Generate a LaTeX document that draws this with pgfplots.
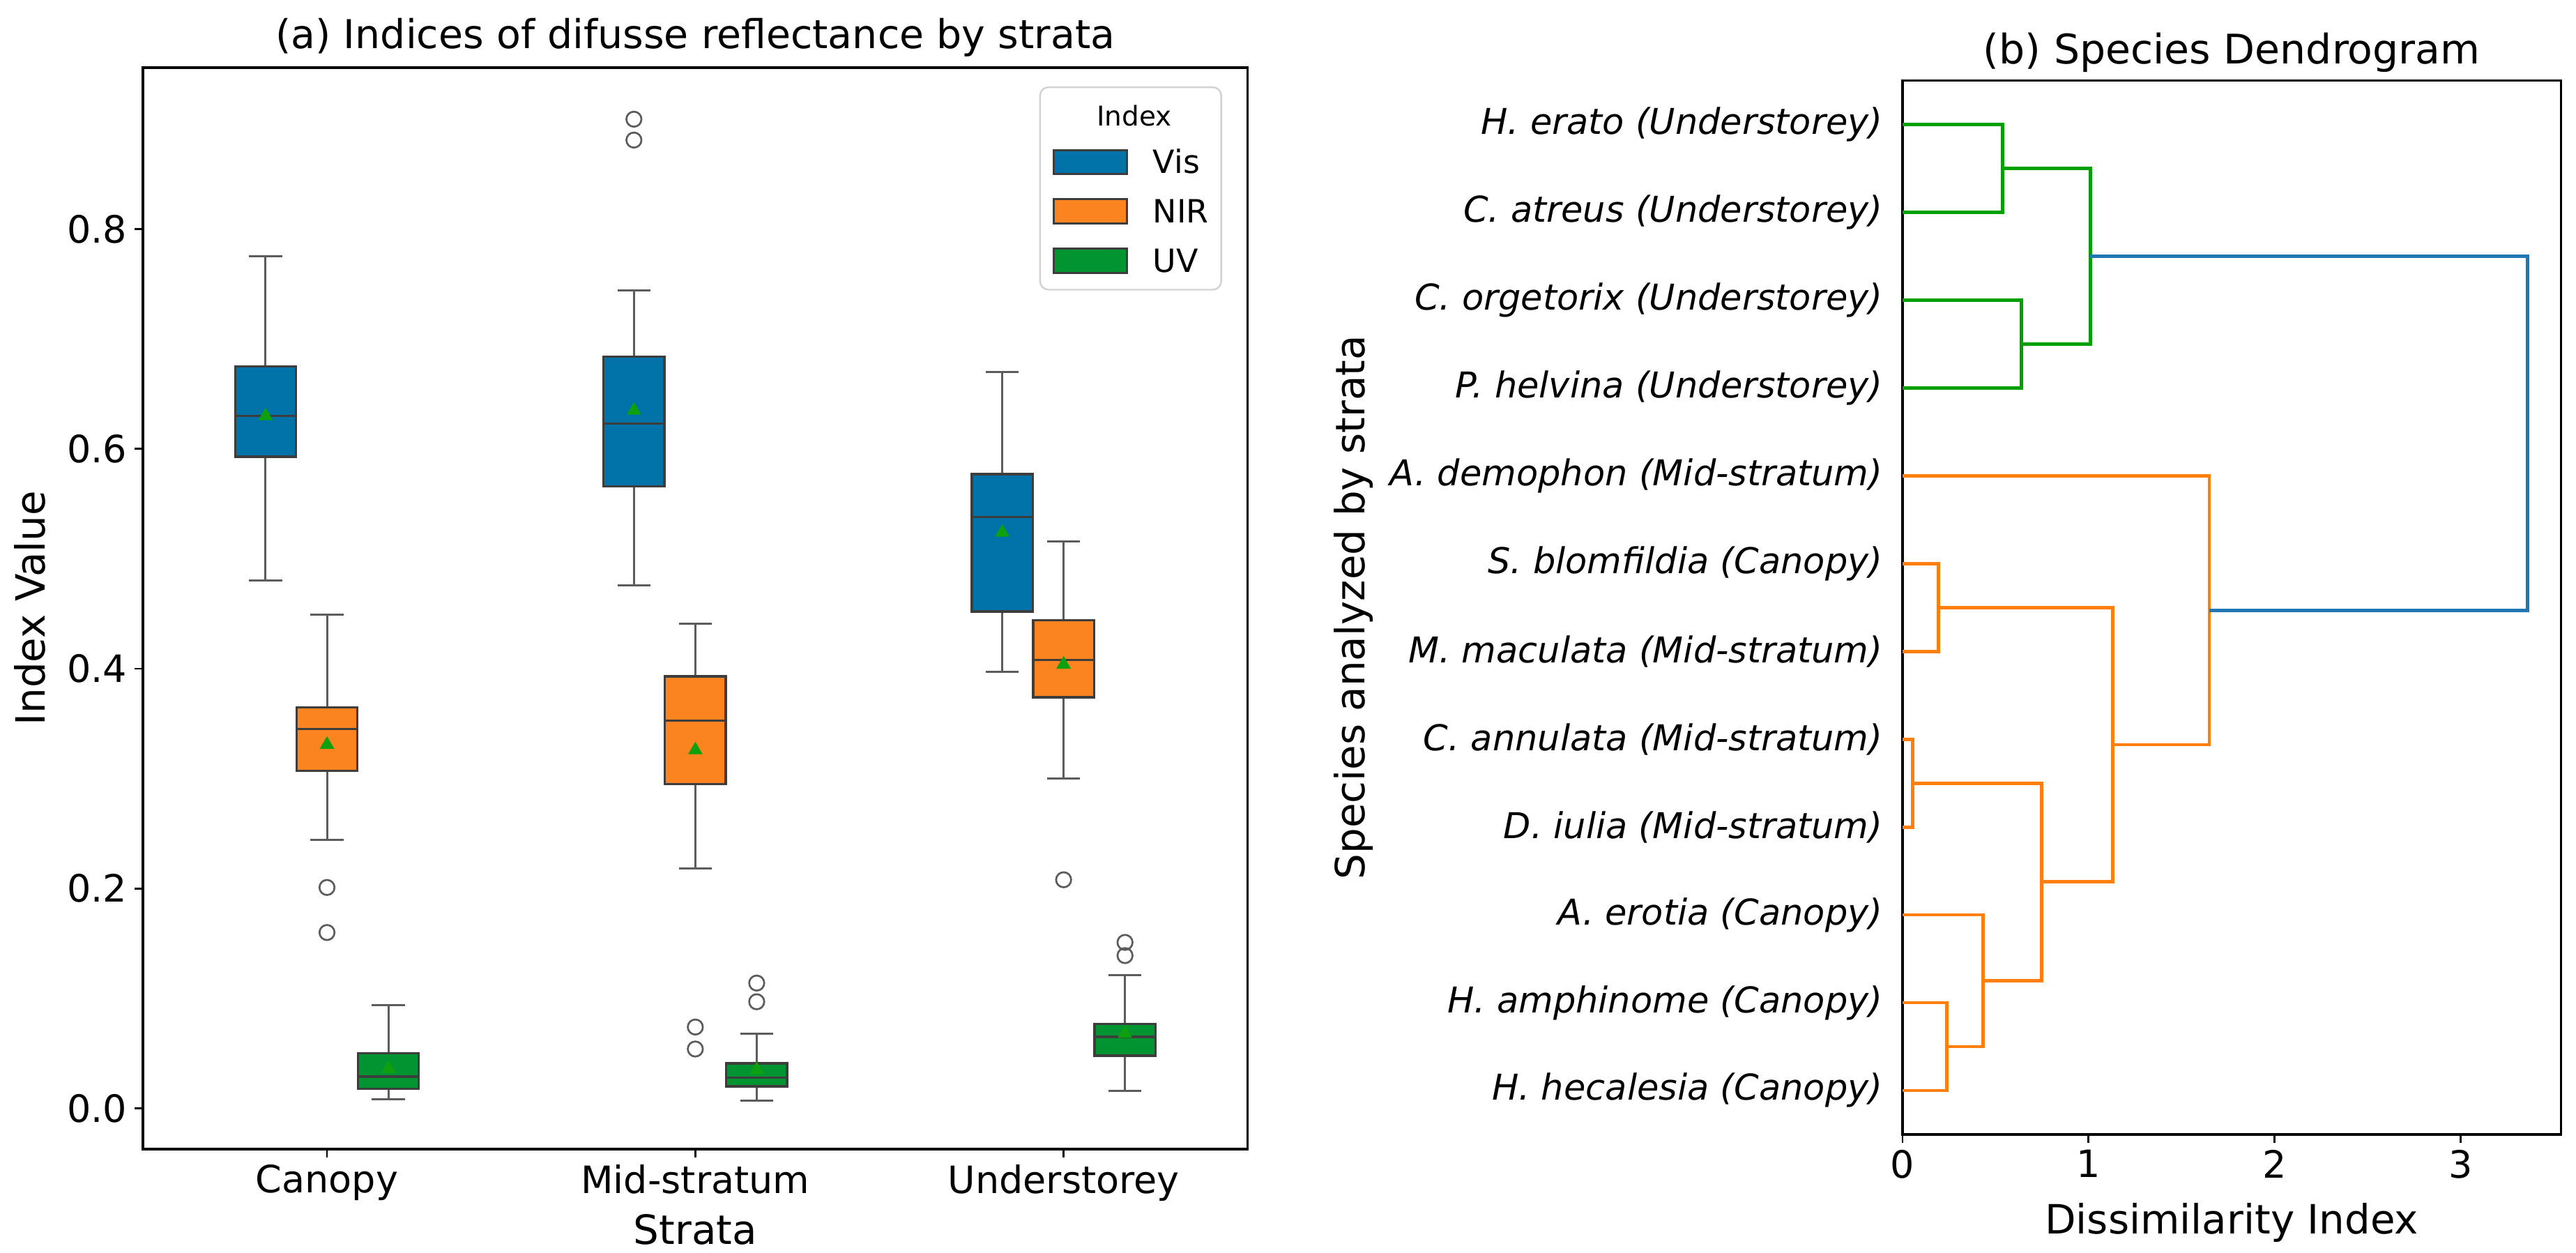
\documentclass[border=0pt]{standalone}
\usepackage{fontspec}
\setmainfont{DejaVu Sans}
\usepackage{pgfplots}
\pgfplotsset{compat=1.18}
\usepgfplotslibrary{statistics}

\definecolor{cVis}{HTML}{0173A8}
\definecolor{cNIR}{HTML}{FB8320}
\definecolor{cUV}{HTML}{019430}
\definecolor{edgec}{HTML}{3D3D3D}
\definecolor{whisk}{HTML}{5C5C5C}
\definecolor{meanc}{HTML}{0FA00F}
\definecolor{dGreen}{HTML}{00A000}
\definecolor{dOrange}{HTML}{FF7F0E}
\definecolor{dBlue}{HTML}{1F77B4}

\pgfplotsset{
  bp/.style={
    draw=edgec, line width=1.1pt,
    boxplot/draw direction=y,
    mark=o, mark size=3.6pt, mark options={draw=whisk, line width=0.9pt, fill=none},
    boxplot/every whisker/.style={draw=whisk, line width=1pt},
    boxplot/every box/.style={draw=edgec, line width=1.1pt},
    boxplot/every median/.style={draw=edgec, line width=1.1pt},
  },
}

\begin{document}
\begin{tikzpicture}
\path[use as bounding box] (0,0) rectangle (1231.67pt,599pt);

% ---------------- (a) boxplots ----------------
\begin{axis}[
  at={(68.3pt,49.7pt)}, anchor=south west,
  scale only axis, width=528.3pt, height=517pt,
  xmin=-0.5, xmax=2.5, ymin=-0.037, ymax=0.947,
  xtick={0,1,2}, xticklabels={Canopy,Mid-stratum,Understorey},
  ytick={0,0.2,0.4,0.6,0.8},
  yticklabel style={/pgf/number format/.cd, fixed, fixed zerofill, precision=1},
  /pgf/number format/assume math mode=true,
  tick align=outside, xtick pos=bottom, ytick pos=left,
  major tick length=4pt,
  tick style={black, line width=0.9pt},
  axis line style={line width=1.1pt},
  tick label style={font=\fontsize{18}{21}\selectfont},
  label style={font=\fontsize{19.3}{23}\selectfont},
  title style={font=\fontsize{19}{23}\selectfont, at={(0.5,1)}, anchor=base, yshift=3pt},
  title={(a) Indices of difusse reflectance by strata},
  xlabel={Strata},
  xlabel style={at={(axis description cs:0.5,0)}, anchor=base, yshift=-45.5pt},
  ylabel={Index Value},
  ylabel style={at={(axis description cs:-0.0884,0.5)}, anchor=base},
  legend style={at={(0.9767,0.9826)}, anchor=north east,
    draw=gray!35, line width=0.8pt, rounded corners=4pt, fill=white,
    font=\fontsize{15.3}{18}\selectfont,
    inner xsep=6pt, inner ysep=7.5pt,
    row sep=11pt, column sep=12pt,
    nodes={inner sep=0pt, text height=11pt, text depth=0pt}},
  legend cell align=left,
]
% Canopy
\addplot[bp, fill=cVis, boxplot prepared={draw position=-0.1667, lower whisker=0.480, lower quartile=0.593, median=0.630, upper quartile=0.675, upper whisker=0.775, box extend=0.165, whisker extend=0.09}, forget plot] coordinates {};
\addplot[bp, fill=cNIR, boxplot prepared={draw position=0, lower whisker=0.244, lower quartile=0.307, median=0.345, upper quartile=0.365, upper whisker=0.449, box extend=0.165, whisker extend=0.09}, forget plot] coordinates {(0,0.201) (0,0.160)};
\addplot[bp, fill=cUV, boxplot prepared={draw position=0.1667, lower whisker=0.008, lower quartile=0.018, median=0.029, upper quartile=0.050, upper whisker=0.094, box extend=0.165, whisker extend=0.09}, forget plot] coordinates {};
% Mid-stratum
\addplot[bp, fill=cVis, boxplot prepared={draw position=0.8333, lower whisker=0.476, lower quartile=0.566, median=0.623, upper quartile=0.684, upper whisker=0.744, box extend=0.165, whisker extend=0.09}, forget plot] coordinates {(0,0.900) (0,0.881)};
\addplot[bp, fill=cNIR, boxplot prepared={draw position=1, lower whisker=0.218, lower quartile=0.295, median=0.353, upper quartile=0.393, upper whisker=0.441, box extend=0.165, whisker extend=0.09}, forget plot] coordinates {(0,0.074) (0,0.054)};
\addplot[bp, fill=cUV, boxplot prepared={draw position=1.1667, lower whisker=0.007, lower quartile=0.020, median=0.028, upper quartile=0.041, upper whisker=0.068, box extend=0.165, whisker extend=0.09}, forget plot] coordinates {(0,0.114) (0,0.097)};
% Understorey
\addplot[bp, fill=cVis, boxplot prepared={draw position=1.8333, lower whisker=0.397, lower quartile=0.452, median=0.538, upper quartile=0.577, upper whisker=0.670, box extend=0.165, whisker extend=0.09}, forget plot] coordinates {};
\addplot[bp, fill=cNIR, boxplot prepared={draw position=2, lower whisker=0.300, lower quartile=0.374, median=0.408, upper quartile=0.444, upper whisker=0.516, box extend=0.165, whisker extend=0.09}, forget plot] coordinates {(0,0.208)};
\addplot[bp, fill=cUV, boxplot prepared={draw position=2.1667, lower whisker=0.016, lower quartile=0.048, median=0.065, upper quartile=0.077, upper whisker=0.121, box extend=0.165, whisker extend=0.09}, forget plot] coordinates {(0,0.151) (0,0.139)};
% means
\addplot[only marks, mark=triangle*, mark size=3.6pt, color=meanc, forget plot] coordinates {
 (-0.1667,0.630) (0,0.331) (0.1667,0.036)
 (0.8333,0.635) (1,0.326) (1.1667,0.035)
 (1.8333,0.524) (2,0.404) (2.1667,0.068)};
% legend
\addlegendimage{empty legend}
\addlegendentry{\makebox[0pt][c]{\hspace*{-19pt}\fontsize{13}{15}\selectfont Index}}
\addlegendimage{legend image code/.code={\draw[sharp corners, draw=edgec, line width=1pt, fill=cVis] (0pt,-5.8pt) rectangle (35pt,5.8pt);}}
\addlegendentry{Vis}
\addlegendimage{legend image code/.code={\draw[sharp corners, draw=edgec, line width=1pt, fill=cNIR] (0pt,-5.8pt) rectangle (35pt,5.8pt);}}
\addlegendentry{NIR}
\addlegendimage{legend image code/.code={\draw[sharp corners, draw=edgec, line width=1pt, fill=cUV] (0pt,-5.8pt) rectangle (35pt,5.8pt);}}
\addlegendentry{UV}
\end{axis}

% ---------------- (b) dendrogram ----------------
\begin{axis}[
  at={(909.7pt,56.7pt)}, anchor=south west,
  scale only axis, width=314.7pt, height=503.7pt,
  xmin=0, xmax=3.54, ymin=0, ymax=120,
  xtick={0,1,2,3},
  ytick={5,15,25,35,45,55,65,75,85,95,105,115},
  yticklabels={{H. hecalesia (Canopy)},{H. amphinome (Canopy)},{A. erotia (Canopy)},{D. iulia (Mid-stratum)},{C. annulata (Mid-stratum)},{M. maculata (Mid-stratum)},{S. blomfildia (Canopy)},{A. demophon (Mid-stratum)},{P. helvina (Understorey)},{C. orgetorix (Understorey)},{C. atreus (Understorey)},{H. erato (Understorey)}},
  /pgf/number format/assume math mode=true,
  tick align=outside, xtick pos=bottom, ytick pos=left,
  major tick length=4pt,
  x tick style={black, line width=0.9pt},
  y tick style={draw=none},
  axis line style={line width=1.1pt},
  xticklabel style={font=\fontsize{18}{21}\selectfont},
  yticklabel style={font=\itshape\fontsize{17}{20}\selectfont, xshift=-2pt},
  label style={font=\fontsize{19.3}{23}\selectfont},
  title style={font=\fontsize{19.5}{23}\selectfont, at={(0.5,1)}, anchor=base, yshift=2pt},
  title={(b) Species Dendrogram},
  xlabel={Dissimilarity Index},
  xlabel style={at={(axis description cs:0.5,0)}, anchor=base, yshift=-47.7pt},
  ylabel={Species analyzed by strata},
  ylabel style={at={(axis description cs:-0.8176,0.5)}, anchor=base},
  every axis plot/.append style={line width=1.6pt, line join=miter},
]
% green cluster
\addplot[dGreen] coordinates {(0,115) (0.537,115) (0.537,105) (0,105)};
\addplot[dGreen] coordinates {(0,95) (0.638,95) (0.638,85) (0,85)};
\addplot[dGreen] coordinates {(0.537,110) (1.01,110) (1.01,90) (0.638,90)};
% orange cluster
\addplot[dOrange] coordinates {(0,5) (0.239,5) (0.239,15) (0,15)};
\addplot[dOrange] coordinates {(0,25) (0.432,25) (0.432,10) (0.239,10)};
\addplot[dOrange] coordinates {(0,35) (0.055,35) (0.055,45) (0,45)};
\addplot[dOrange] coordinates {(0.055,40) (0.749,40) (0.749,17.5) (0.432,17.5)};
\addplot[dOrange] coordinates {(0,55) (0.193,55) (0.193,65) (0,65)};
\addplot[dOrange] coordinates {(0.193,60) (1.13,60) (1.13,28.75) (0.749,28.75)};
\addplot[dOrange] coordinates {(0,75) (1.649,75) (1.649,44.375) (1.13,44.375)};
% top link
\addplot[dBlue] coordinates {(1.01,100) (3.36,100) (3.36,59.6875) (1.649,59.6875)};
\end{axis}
\end{tikzpicture}
\end{document}
